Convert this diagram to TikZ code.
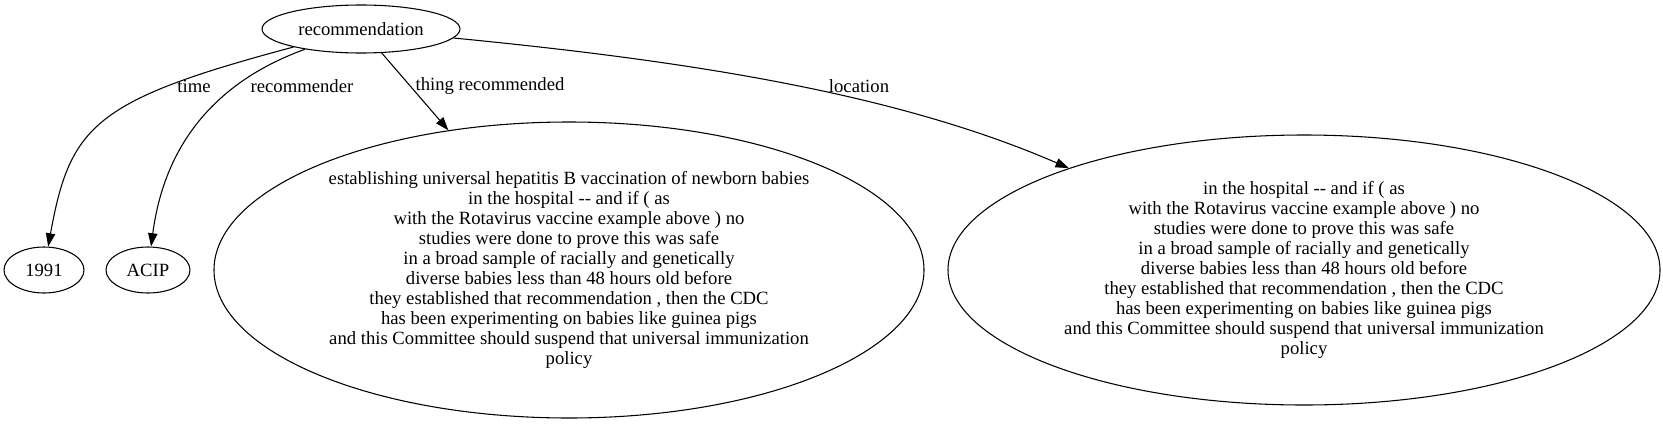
\documentclass[tikz,border=0pt]{standalone}
\usepackage{fontspec}
\setmainfont{Liberation Serif}
\usetikzlibrary{shapes.geometric,arrows.meta}

\newcommand{\ddash}{-\kern0pt-}

\begin{document}
\begin{tikzpicture}[x=0.75pt,y=-0.75pt,font=\fontsize{14}{15}\selectfont,
  line width=0.8pt,>={Triangle[length=10pt,width=7pt]},
  concept/.style={draw,ellipse,inner sep=0pt,align=center},
  lbl/.style={inner sep=1pt}]

\useasboundingbox (0,0) rectangle (1663,425);

% nodes
\node[concept,minimum width=148.5pt,minimum height=36pt] (rec) at (361,29) {recommendation};
\node[concept,minimum width=60pt,minimum height=34.5pt] (yr) at (44,270) {1991};
\node[concept,minimum width=63pt,minimum height=34.5pt] (acip) at (148,270) {ACIP};

\node[concept,minimum width=532.5pt,minimum height=222pt] (thing) at (569,270) {establishing universal hepatitis B vaccination of newborn babies\\
in the hospital \ddash{} and if ( as\\
with the Rotavirus vaccine example above ) no\\
studies were done to prove this was safe\\
in a broad sample of racially and genetically\\
diverse babies less than 48 hours old before\\
they established that recommendation , then the CDC\\
has been experimenting on babies like guinea pigs\\
and this Committee should suspend that universal immunization\\
policy};

\node[concept,minimum width=534pt,minimum height=202.5pt] (loc) at (1304,270) {in the hospital \ddash{} and if ( as\\
with the Rotavirus vaccine example above ) no\\
studies were done to prove this was safe\\
in a broad sample of racially and genetically\\
diverse babies less than 48 hours old before\\
they established that recommendation , then the CDC\\
has been experimenting on babies like guinea pigs\\
and this Committee should suspend that universal immunization\\
policy};

% edges
\draw[->] (rec) .. controls (95,100) and (70,125) .. (yr);
\draw[->] (rec) .. controls (220,80) and (165,140) .. (acip);
\draw[->] (rec) -- (thing);
\draw[->] (rec) .. controls (700,62) and (900,95) .. (loc);

% edge labels
\node[lbl] (ltime) at (194,86) {time};
\node[lbl] (lrecommender) at (302,86) {recommender};
\node[lbl] (lthing) at (490,86) {thing recommended};
\node[lbl] (lloc) at (859,86) {location};

\end{tikzpicture}
\end{document}
